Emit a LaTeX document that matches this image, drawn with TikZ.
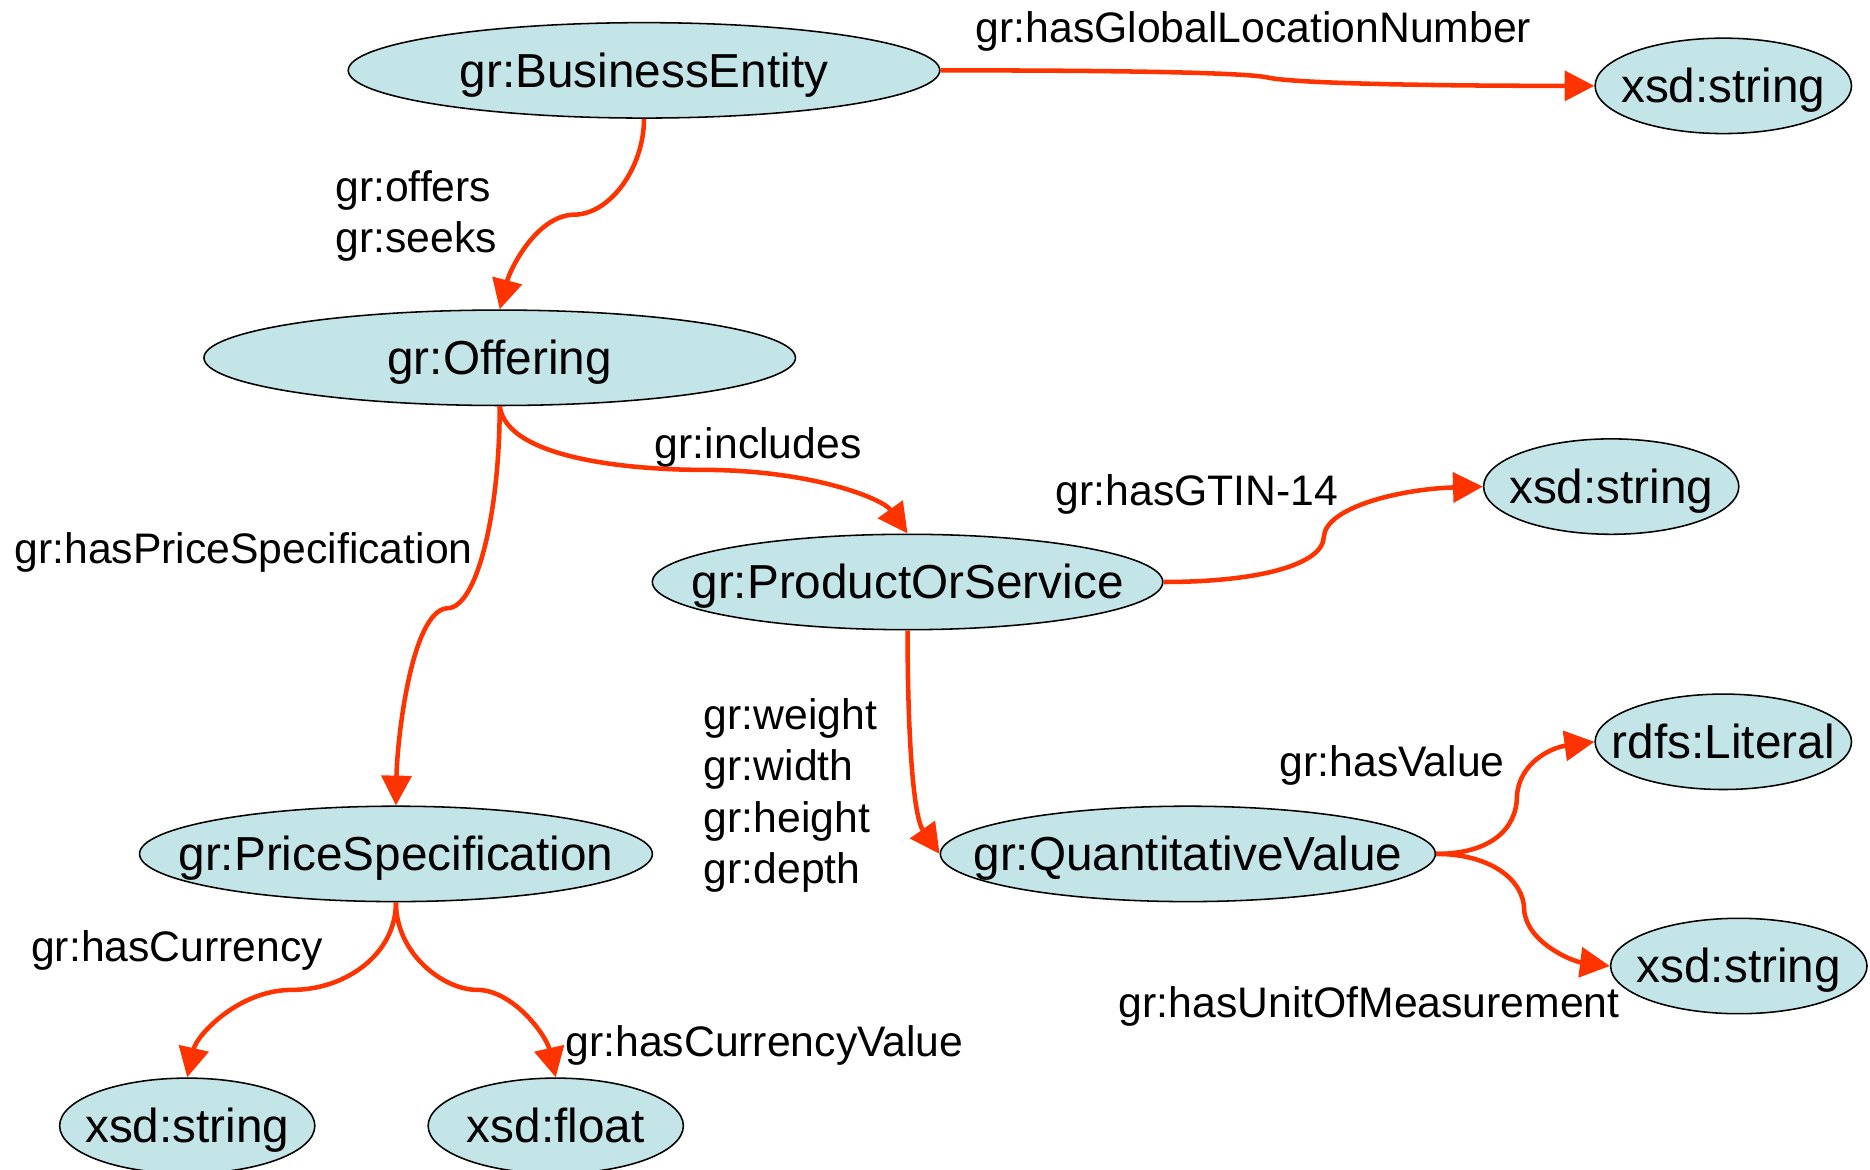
\documentclass[tikz,border=0pt]{standalone}
\usepackage{fontspec}
\setmainfont{Liberation Sans}
\usetikzlibrary{shapes.geometric,arrows.meta}
\definecolor{classfill}{RGB}{196,229,232}
\definecolor{proparrow}{RGB}{255,51,0}
\newcommand{\clname}[1]{\makebox[0pt]{\raisebox{-14pt}[0pt][0pt]{#1}}}
\tikzset{
  cls/.style={ellipse, draw=black, line width=1.3pt, fill=classfill,
    inner sep=0pt, minimum height=80pt, font=\fontsize{40}{48}\selectfont},
  prop/.style={draw=proparrow, line width=3.8pt,
    -{Triangle[length=25pt,width=25pt,fill=proparrow]}},
  plabel/.style={anchor=west, inner sep=0pt, align=left,
    font=\fontsize{35.8}{43}\selectfont}
}
\begin{document}
\begin{tikzpicture}[x=1pt,y=-1pt]
\useasboundingbox (0,0) rectangle (1568,981);

% classes and datatypes
\node[cls, minimum width=496pt] (be)  at (540,59)  {\clname{gr:BusinessEntity}};
\node[cls, minimum width=215pt] (s1)  at (1445,72) {\clname{xsd:string}};
\node[cls, minimum width=496pt] (of)  at (419,300) {\clname{gr:Offering}};
\node[cls, minimum width=428pt] (ps)  at (761,488) {\clname{gr:ProductOrService}};
\node[cls, minimum width=214pt] (s2)  at (1351,408) {\clname{xsd:string}};
\node[cls, minimum width=430pt] (pr)  at (332,716) {\clname{gr:PriceSpecification}};
\node[cls, minimum width=415pt] (qv)  at (996,716) {\clname{gr:QuantitativeValue}};
\node[cls, minimum width=215pt] (lit) at (1445,622) {\clname{rdfs:Literal}};
\node[cls, minimum width=215pt] (s3)  at (1458,810) {\clname{xsd:string}};
\node[cls, minimum width=214pt] (s4)  at (157,944) {\clname{xsd:string}};
\node[cls, minimum width=214pt] (fl)  at (466,944) {\clname{xsd:float}};

% property labels
\node[plabel] (lgln) at (818,26)  {gr:hasGlobalLocationNumber};
\node[plabel] (loff) at (281,181) {gr:offers\\gr:seeks};
\node[plabel] (linc) at (549,375) {gr:includes};
\node[plabel] (lpsp) at (12,463)  {gr:hasPriceSpecification};
\node[plabel] (lgtn) at (885,415) {gr:hasGTIN-14};
\node[plabel] (ldim) at (590,667) {gr:weight\\gr:width\\gr:height\\gr:depth};
\node[plabel] (lval) at (1073,642) {gr:hasValue};
\node[plabel] (luom) at (938,844) {gr:hasUnitOfMeasurement};
\node[plabel] (lcur) at (26,797)  {gr:hasCurrency};
\node[plabel] (lcvl) at (474,877) {gr:hasCurrencyValue};

% properties
\draw[prop] (be.east) .. controls (900,59) and (1040,60) .. (1063,65)
  .. controls (1085,70) and (1200,72) .. (s1.west);
\draw[prop] (be.south) .. controls (540,140) and (512,180) .. (481,180)
  .. controls (450,181) and (428,225) .. (of.north);
\draw[prop] (of.south) .. controls (425,385) and (530,394) .. (590,394)
  .. controls (680,394) and (740,418) .. (ps.north);
\draw[prop] (of.south) .. controls (419,430) and (400,510) .. (375,510)
  .. controls (345,512) and (333,620) .. (pr.north);
\draw[prop] (ps.east) .. controls (1060,488) and (1110,472) .. (1110,450)
  .. controls (1112,425) and (1175,410) .. (s2.west);
\draw[prop] (ps.south) .. controls (761,620) and (766,685) .. (qv.west);
\draw[prop] (qv.east) .. controls (1250,716) and (1272,695) .. (1272,667)
  .. controls (1274,640) and (1300,627) .. (lit.west);
\draw[prop] (qv.east) .. controls (1250,716) and (1278,738) .. (1278,763)
  .. controls (1280,790) and (1318,806) .. (s3.west);
\draw[prop] (pr.south) .. controls (332,800) and (290,830) .. (245,830)
  .. controls (200,830) and (165,868) .. (s4.north);
\draw[prop] (pr.south) .. controls (332,800) and (372,830) .. (400,830)
  .. controls (430,830) and (458,868) .. (fl.north);
\end{tikzpicture}
\end{document}
